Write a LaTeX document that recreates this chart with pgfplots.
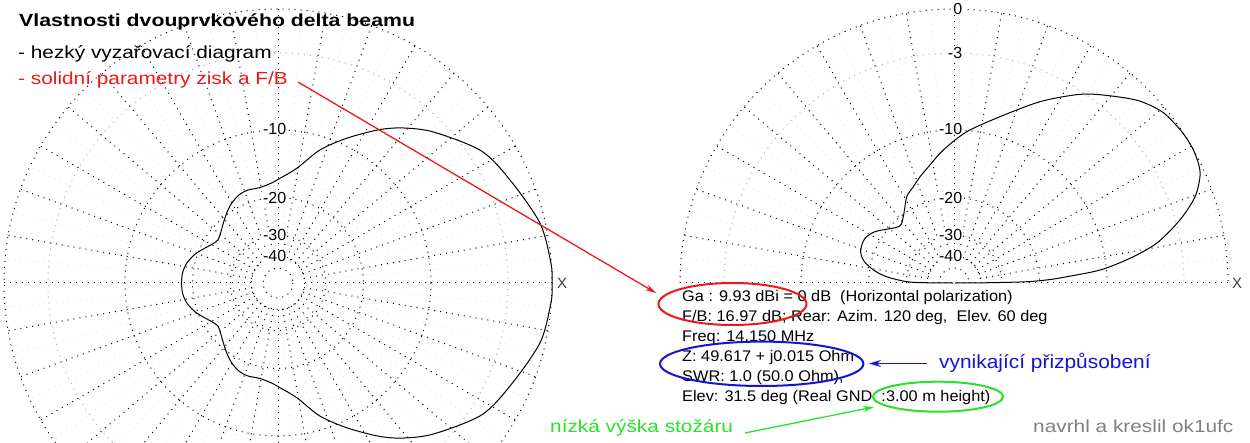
\documentclass[border=0pt]{standalone}
\usepackage{pgfplots}
\pgfplotsset{compat=1.18}
\usepackage{pgfplotstable}
\usepackage{fontspec}
\setmainfont{Liberation Sans}
\usetikzlibrary{arrows.meta}
\definecolor{ringred}{RGB}{225,150,140}
\definecolor{myred}{RGB}{235,25,25}
\definecolor{myblue}{RGB}{20,20,210}
\definecolor{mygreen}{RGB}{40,225,40}
\definecolor{mygray}{RGB}{128,128,128}

% azimuth pattern (deg, dB)
\pgfplotstableread{
ang db
-180 -17.9
-174 -18.0
-167.8 -18.47
-161 -19.5
-155 -20.8
-149.5 -21.9
-144.2 -22.5
-138.5 -21.9
-132.5 -20.92
-126 -19.7
-120.2 -18.69
-114 -17.95
-108 -17.7
-101 -17.8
-94 -17.3
-88.9 -16.51
-80.7 -14.72
-72.5 -11.59
-64.6 -9.21
-56.7 -6.9
-51 -5.45
-44 -4.0
-33 -2.1
-23.9 -1.31
-12.8 -0.33
-4 -0.02
0 0
4 -0.02
12.8 -0.33
23.9 -1.31
33 -2.1
44 -4.0
51 -5.45
56.7 -6.9
64.6 -9.21
72.5 -11.59
80.7 -14.72
88.9 -16.51
94 -17.3
101 -17.8
108 -17.7
114 -17.95
120.2 -18.69
126 -19.7
132.5 -20.92
138.5 -21.9
144.2 -22.5
149.5 -21.9
155 -20.8
161 -19.5
167.8 -18.47
174 -18.0
180 -17.9
}\azim

% elevation pattern (deg, dB)
\pgfplotstableread{
ang db
0 -100
0.5 -34.8
1 -22.8
2 -18.2
3.2 -15.2
5.1 -10.7
8 -7.43
11.1 -4.86
15.6 -2.67
19.7 -1.17
24 -0.29
28 -0.04
31.5 0
35 -0.08
39.6 -0.3
45 -1.0
52.2 -2.4
56.9 -3.4
64.6 -5.34
74.5 -7.93
85.2 -10.14
94.6 -12.35
101.5 -14.11
107.7 -15.42
112.9 -16.54
118.7 -17.58
125.7 -19.93
132 -21.37
135.8 -21.15
141.4 -19.87
147 -18.33
153.3 -17.37
160.5 -17.47
165.8 -18.44
170.8 -20.77
174.7 -24.02
178.4 -30.15
179.4 -37.57
180 -100
}\elev

\newcommand\tbfont{\fontsize{15.4}{18}\selectfont}
\newcommand\tb[1]{\scalebox{1.06}[1]{#1}}
\newcommand\bigfont{\fontsize{17.5}{20}\selectfont}
\newcommand\bgx[1]{\scalebox{1.19}[1]{#1}}

\begin{document}
\begin{tikzpicture}[x=1pt,y=-1pt]
\useasboundingbox (0,0) rectangle (1250,443);
\clip (0,0) rectangle (1250,443);
\tikzset{dotgrid/.style={line width=1pt, dash pattern=on 1pt off 5pt},
         faintgrid/.style={line width=1pt, dash pattern=on 1pt off 5pt, black!9},
         lab/.style={font=\fontsize{16}{18}\selectfont, fill=white, inner sep=0.6pt, anchor=east}}
% ---------- left (azimuth) grid ----------
\foreach \a in {5,15,...,355} \draw[faintgrid] (278,283) ++(\a:48) -- ++(\a:226);
\foreach \a in {0,10,...,350} \draw[dotgrid] (278,283) ++(\a:26.6) -- ++(\a:247.4);
\foreach \rr in {274,153,85.4,47.7,26.6,14.9} \draw[dotgrid] (278,283) circle[radius=\rr];
\draw[dotgrid, ringred] (278,283) circle[radius=230];
% ---------- right (elevation) grid ----------
\foreach \a in {5,15,...,175} \draw[faintgrid] (954,283) ++(-\a:48) -- ++(-\a:226);
\foreach \a in {0,10,...,180} \draw[dotgrid] (954,283) ++(-\a:26.6) -- ++(-\a:247.4);
\foreach \rr in {274,153,85.4,47.7,26.6,14.9} \draw[dotgrid] (954-\rr,283) arc[start angle=-180, end angle=0, radius=\rr];
\draw[dotgrid, ringred] (724,283) arc[start angle=-180, end angle=0, radius=230];
\draw[dotgrid] (927,283) -- (981,283);
% ring labels
\node[lab] at (287,129) {-10};
\node[lab] at (287,197.6) {-20};
\node[lab] at (287,235.3) {-30};
\node[lab] at (287,256.4) {-40};
\node[lab] at (963,9) {0};
\node[lab] at (963,53) {-3};
\node[lab] at (963,129) {-10};
\node[lab] at (963,197.6) {-20};
\node[lab] at (963,235.3) {-30};
\node[lab] at (963,256.4) {-40};
\node[font=\fontsize{15}{16}\selectfont, text=black!75, inner sep=0] at (562,283) {X};
\node[font=\fontsize{15}{16}\selectfont, text=black!75, inner sep=0] at (1237,283) {X};

% ---------- patterns ----------
\begin{axis}[at={(0,443)}, anchor=south west, x=1pt, y=1pt, y dir=reverse,
  xmin=0, xmax=1250, ymin=0, ymax=443, hide axis, clip=false]
\addplot[black, line width=1pt, smooth, tension=0.5] table[
  x expr={278+274*exp(0.058266*\thisrow{db})*cos(\thisrow{ang})},
  y expr={283-274*exp(0.058266*\thisrow{db})*sin(\thisrow{ang})}] {\azim};
\addplot[black, line width=1pt, smooth, tension=0.5] table[
  x expr={954+274*exp(0.058266*\thisrow{db})*cos(\thisrow{ang})},
  y expr={283-274*exp(0.058266*\thisrow{db})*sin(\thisrow{ang})}] {\elev};
\end{axis}

% ---------- texts ----------
\node[anchor=base west, inner sep=0, font=\bigfont\bfseries] at (19,27) {\scalebox{1.215}[1]{Vlastnosti dvouprvkového delta beamu}};
\node[anchor=base west, inner sep=0, font=\bigfont] at (18,59) {\bgx{- hezký vyzařovací diagram}};
\node[anchor=base west, inner sep=0, font=\bigfont, text=myred] at (18,85) {\bgx{- solidní parametry zisk a F/B}};

\node[anchor=base west, inner sep=0, font=\tbfont] at (682,302) {\tb{Ga : 9.93 dBi = 0 dB\ \ (Horizontal polarization)}};
\node[anchor=base west, inner sep=0, font=\tbfont] at (682,321.8) {\tb{F/B: 16.97 dB; Rear: Azim. 120 deg,\ \ Elev. 60 deg}};
\node[anchor=base west, inner sep=0, font=\tbfont] at (682,341.6) {\tb{Freq: 14.150 MHz}};
\node[anchor=base west, inner sep=0, font=\tbfont] at (682,361.4) {\tb{Z: 49.617 + j0.015 Ohm}};
\node[anchor=base west, inner sep=0, font=\tbfont] at (682,381.2) {\tb{SWR: 1.0 (50.0 Ohm),}};
\node[anchor=base west, inner sep=0, font=\tbfont] at (682,401) {\tb{Elev: 31.5 deg (Real GND\ \ :3.00 m height)}};

\node[anchor=base west, inner sep=0, font=\fontsize{19}{22}\selectfont, text=myblue] at (939,369) {\scalebox{1.1}[1]{vynikající přizpůsobení}};
\node[anchor=base west, inner sep=0, font=\bigfont, text=mygreen] at (550,432) {\bgx{nízká výška stožáru}};
\node[anchor=base west, inner sep=0, font=\bigfont, text=mygray] at (1033,432) {\bgx{navrhl a kreslil ok1ufc}};

% ---------- annotations ----------
\draw[myred, line width=2pt] (732.5,304) ellipse[x radius=74, y radius=21];
\draw[myred, line width=1.3pt, -{Stealth[length=11pt,width=6pt]}] (298,82) -- (656,293);
\draw[myblue, line width=2pt] (761.7,363.8) ellipse[x radius=101.7, y radius=22.2];
\draw[myblue, line width=1.5pt, -{Stealth[length=12pt,width=7pt]}] (927,363.5) -- (869,363.5);
\draw[mygreen, line width=2pt] (938,396.7) ellipse[x radius=65, y radius=15];
\draw[mygreen, line width=1.3pt, -{Stealth[length=11pt,width=6pt]}] (745,433) -- (874,407);
\end{tikzpicture}
\end{document}
